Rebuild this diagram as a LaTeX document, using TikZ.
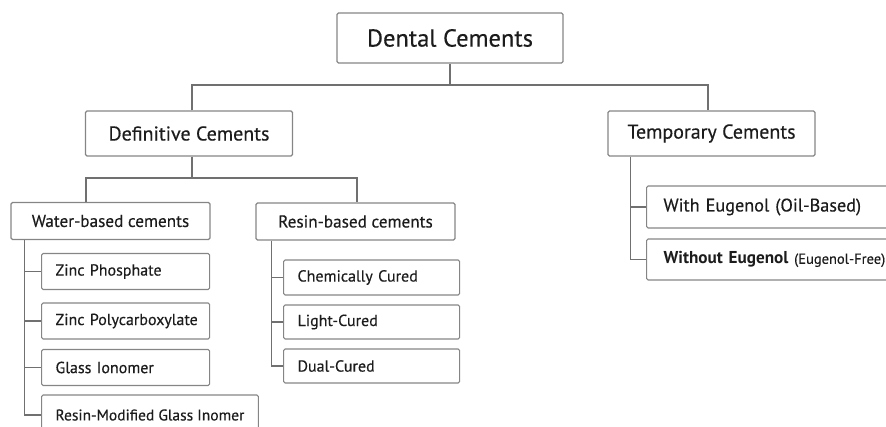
\documentclass[tikz,border=0pt]{standalone}
\usepackage{fontspec}
\setmainfont{PT Sans}[UprightFeatures={FakeBold=0.4}]
\usetikzlibrary{positioning,calc}
\definecolor{linegray}{HTML}{707070}
\definecolor{boxgray}{HTML}{858585}
\definecolor{inkgray}{HTML}{1C1C1C}
\tikzset{
  every picture/.style={line width=1.1pt},
  sbox/.style={draw=boxgray, rounded corners=1.5pt, text=inkgray, inner sep=0pt},
  sroot/.style={sbox, minimum width=226pt, minimum height=50pt,
                font=\fontsize{24.5}{28}\selectfont},
  scat/.style={sbox, minimum width=207pt, minimum height=45pt,
               font=\fontsize{20}{24}\selectfont},
  ssub/.style={sbox, minimum width=199pt, minimum height=37pt,
               font=\fontsize{17.2}{20}\selectfont},
  sleaf/.style={sbox, anchor=west, align=left, inner xsep=14pt,
                minimum height=36pt, font=\fontsize{16}{19}\selectfont},
  sline/.style={draw=linegray},
}

\begin{document}
\begin{tikzpicture}[x=1pt, y=-1pt]
  \useasboundingbox (0,0) rectangle (886,426);
  \clip (0,0) rectangle (886,426);
  % top levels
  \node[sroot] (root) at (450,38) {Dental Cements};
  \node[scat] (defin) at (189,133.5) {Definitive Cements};
  \node[scat] (temp) at (711.5,133.5) {Temporary Cements};
  \node[ssub] (water) at (110.5,221) {Water-based cements};
  \node[ssub] (resin) at (355.5,221.5) {Resin-based cements};
  % water-based leaves
  \node[sleaf, text width=140pt] (zp) at (41,271.5) {Zinc Phosphate};
  \node[sleaf, text width=140pt] (zpc) at (41,321) {\mbox{Zinc Polycarboxylate}};
  \node[sleaf, text width=140pt] (gi) at (41,367.5) {Glass Ionomer};
  \node[sleaf, minimum height=40pt, font=\fontsize{15.5}{18}\selectfont] (rmgi) at (41,415)
        {Resin-Modified Glass Inomer};
  % resin-based leaves
  \node[sleaf, text width=148pt, minimum height=35pt] (cc) at (283,277.5) {Chemically Cured};
  \node[sleaf, text width=148pt, minimum height=34pt] (lc) at (283,322) {Light-Cured};
  \node[sleaf, text width=148pt, minimum height=34pt] (dc) at (283,366) {Dual-Cured};
  % temporary leaves
  \node[sleaf, inner xsep=17pt, text width=226pt, minimum height=42pt, font=\fontsize{18.2}{21}\selectfont]
        (we) at (646,207) {With Eugenol (Oil-Based)};
  \node[sleaf, inner xsep=17pt, text width=226pt, minimum height=41pt, font=\fontsize{17.2}{20}\selectfont]
        (woe) at (646,259.5) {\textbf{Without Eugenol} {\fontsize{14.5}{17}\selectfont(Eugenol-Free)}};
  % connectors
  \coordinate (rootjoin) at (root.south |- 0,85);
  \draw[sline] (root.south) -- (rootjoin);
  \draw[sline] ([xshift=3pt]defin.north) |- (rootjoin) -| ([xshift=-3.5pt]temp.north);
  \coordinate (defjoin) at ([xshift=3pt]defin.south |- 0,178);
  \draw[sline] ([xshift=3pt]defin.south) -- (defjoin);
  \draw[sline] ([xshift=-24.5pt]water.north) |- (defjoin) -| ([xshift=1.5pt]resin.north);
  \coordinate (wtrunk) at ([xshift=14pt]water.south west);
  \draw[sline] (wtrunk) |- (rmgi.west);
  \foreach \leaf in {zp,zpc,gi}
    \draw[sline] (wtrunk |- \leaf.west) -- (\leaf.west);
  \coordinate (rtrunk) at ([xshift=16pt]resin.south west);
  \draw[sline] (rtrunk) |- (dc.west);
  \foreach \leaf in {cc,lc}
    \draw[sline] (rtrunk |- \leaf.west) -- (\leaf.west);
  \coordinate (ttrunk) at ([xshift=23pt]temp.south west);
  \draw[sline] (ttrunk) |- (woe.west);
  \draw[sline] (ttrunk |- we.west) -- (we.west);
\end{tikzpicture}
\end{document}
